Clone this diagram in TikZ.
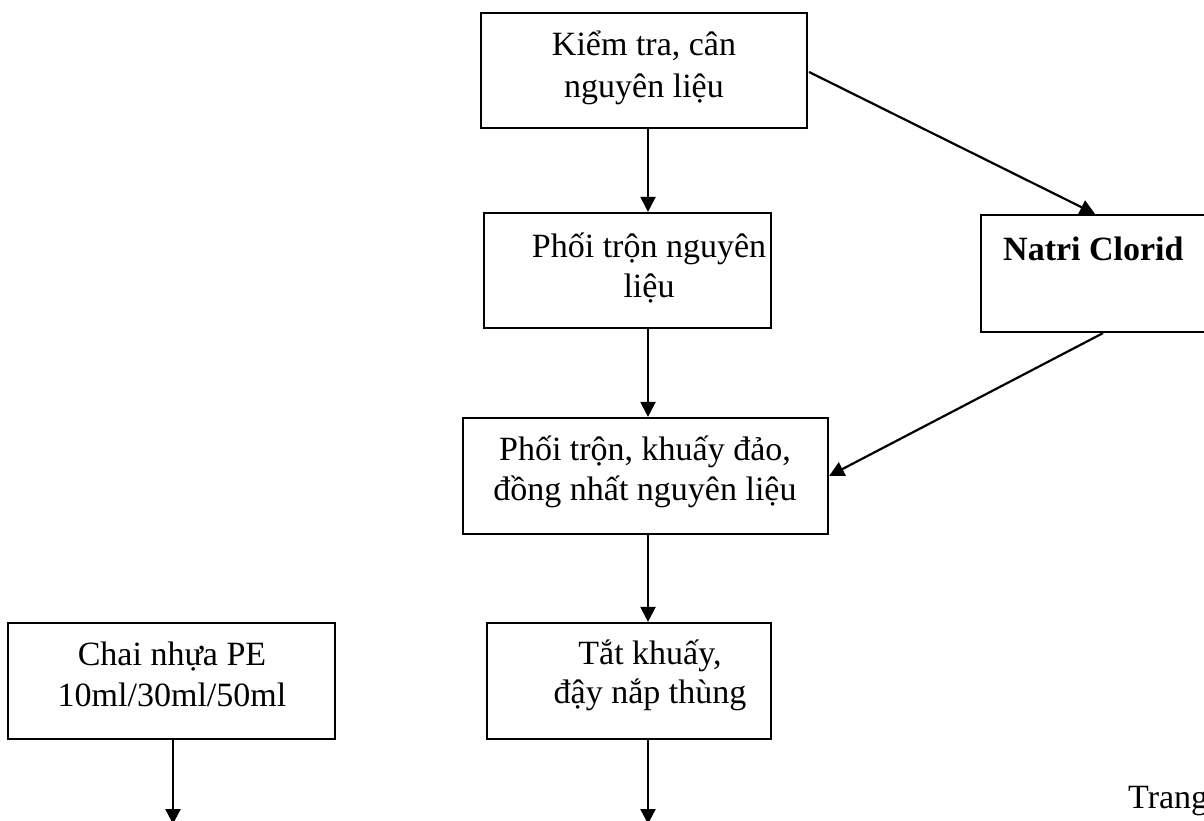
\documentclass[tikz,border=0pt]{standalone}
\usepackage{fontspec}
\setmainfont{Liberation Serif}
\usetikzlibrary{arrows.meta,calc}
\begin{document}
\begin{tikzpicture}[x=1pt,y=-1pt,
  box/.style={draw=black,line width=2.2pt,rectangle,inner sep=0pt},
  txt/.style={anchor=base,inner sep=0pt,font=\fontsize{34}{41}\selectfont},
  arr/.style={line width=2.2pt,-{Triangle[length=15pt,width=15pt]}}]
\useasboundingbox (0,0) rectangle (1204,820);
\fill[white] (0,0) rectangle (1204,820);
\clip (0,0) rectangle (1204,820);
% boxes
\node[box,minimum width=326pt,minimum height=115pt] (b1) at (644,70.5) {};
\node[box,minimum width=287pt,minimum height=115pt] (b2) at (627.5,270.5) {};
\node[box,minimum width=228pt,minimum height=117pt] (b3) at (1095,273.5) {};
\node[box,minimum width=365pt,minimum height=116pt] (b4) at (645.5,476) {};
\node[box,minimum width=284pt,minimum height=116pt] (b5) at (629,681) {};
\node[box,minimum width=327pt,minimum height=116pt] (b6) at (171.5,681) {};
% texts
\node[txt] (t1a) at (644,55) {Kiểm tra, cân};
\node[txt] (t1b) at (644,97) {nguyên liệu};
\node[txt] (t2a) at (649,257) {Phối trộn nguyên};
\node[txt] (t2b) at (649,297) {liệu};
\node[txt,anchor=base west,font=\fontsize{34}{41}\selectfont\bfseries] (t3) at (1003,260) {Natri Clorid};
\node[txt] (t4a) at (645,460) {Phối trộn, khuấy đảo,};
\node[txt] (t4b) at (645,500) {đồng nhất nguyên liệu};
\node[txt] (t5a) at (650,664) {Tắt khuấy,};
\node[txt] (t5b) at (650,703) {đậy nắp thùng};
\node[txt] (t6a) at (172,665) {Chai nhựa PE};
\node[txt] (t6b) at (172,706) {10ml/30ml/50ml};
\node[txt,anchor=base west] (trang) at (1128,808) {Trang};
% connectors
\coordinate (col) at (648,0);
\coordinate (endA) at (648,824);
\coordinate (endB) at (173,824);
\draw[arr] (b1.south -| col) -- (b2.north -| col);
\draw[arr] (b2.south -| col) -- (b4.north -| col);
\draw[arr] (b4.south -| col) -- (b5.north -| col);
\draw[arr] (b5.south -| col) -- (endA);
\draw[arr] (b6.south -| endB) -- (endB);
\draw[arr] ($(b1.east)+(1,1.5)$) -- (b3.north);
\draw[arr] ($(b3.south)+(8,0)$) -- (b4.east);
\end{tikzpicture}
\end{document}
